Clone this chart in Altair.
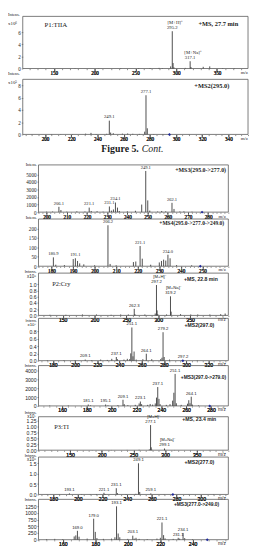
import math
import altair as alt
import pandas as pd

SERIF = "Liberation Serif"
SANS = "Liberation Sans"
W = 229
STICK = "#3a3a3a"
FRAME = "#5a5a5a"
TXT = "#1a1a1a"
PREC = "#1f2a9c"

# ---------------- data ----------------
# P1 : TIIA, +MS 27.7 min (x10^6)
P1_MZ = [150, 176, 205, 232, 254, 268, 279, 283, 293.2, 295.2, 296.2, 297.2, 311.1, 317.1, 318.1, 333.1, 341.1, 357, 371]
P1_INT = [0.03, 0.04, 0.03, 0.05, 0.06, 0.08, 0.1, 0.06, 0.35, 6.15, 0.9, 0.2, 0.1, 1.2, 0.25, 0.28, 0.35, 0.06, 0.05]
P1_LAB = [295.2, 317.1]
P1_ION_MZ = [295.2, 317.1]
P1_ION_TXT = ["[M+H]⁺", "[M+Na]⁺"]

# P1 : +MS2(295.0) (x10^5)
P2_MZ = [190, 205, 212, 221, 231, 235.1, 239, 247.1, 249.1, 250.1, 252.1, 259.1, 263.1, 267, 272, 276.1, 277.1, 278.1, 283, 290, 310]
P2_INT = [0.03, 0.04, 0.03, 0.05, 0.12, 0.25, 0.06, 0.1, 2.25, 0.3, 0.2, 0.12, 0.15, 0.1, 0.08, 0.45, 6.4, 1.0, 0.05, 0.05, 0.03]
P2_LAB = [249.1, 277.1]
P2_PREC = 295.0

# +MS3(295.0->277.0)
P3_MZ = [200, 203, 206.1, 207.1, 210, 215, 219, 221.1, 222.1, 225, 228, 231.1, 232.1, 233.1, 234.1, 235.1, 236, 240, 244, 247.1, 249.1, 250.1, 251.1, 255, 257, 259, 262.1, 263.1, 266, 268, 272]
P3_INT = [60, 80, 700, 280, 60, 100, 80, 600, 150, 120, 60, 750, 200, 350, 1270, 600, 150, 100, 180, 1000, 5450, 1550, 200, 80, 150, 100, 1230, 420, 80, 100, 60]
P3_LAB = [206.1, 221.1, 231.1, 234.1, 249.1, 262.1]
P3_PREC = 277.0

# +MS4(295.0->277.0->249.0)
P4_MZ = [180.9, 182, 186, 190.1, 191.1, 192.1, 193.1, 195, 200, 206.2, 207.2, 210, 218, 219.1, 221.1, 222.1, 226, 230, 231, 232, 233, 234.0, 235, 238, 245]
P4_INT = [47, 8, 6, 38, 42, 28, 15, 10, 5, 217, 12, 5, 22, 25, 107, 40, 8, 20, 28, 35, 30, 61, 42, 6, 5]
P4_LAB = [180.9, 191.1, 206.2, 221.1, 234.0]
P4_PREC = 249.0

# P2 : Cry, +MS 22.8 min (x10^6)
P5_MZ = [130, 155, 181, 203, 226, 241, 253, 262.3, 263.3, 279, 295.2, 297.2, 298.2, 299.2, 313, 319.2, 320.2, 335, 351, 362, 381, 398, 405]
P5_INT = [0.02, 0.02, 0.03, 0.03, 0.02, 0.03, 0.03, 0.21, 0.04, 0.03, 0.06, 0.97, 0.16, 0.04, 0.03, 0.61, 0.12, 0.04, 0.03, 0.03, 0.03, 0.04, 0.06]
P5_LAB = [262.3, 297.2, 319.2]
P5_ION_MZ = [297.2, 319.2]
P5_ION_TXT = ["[M+H]⁺", "[M+Na]⁺"]

# +MS2(297.0) (x10^7)
P6_MZ = [175, 190, 200, 209.1, 215, 223, 229, 233, 237.1, 238.1, 244, 247, 249.1, 250.1, 251.1, 252.1, 253.1, 255, 261, 264.1, 269, 277, 278.2, 279.2, 280.2, 285, 297.2, 310]
P6_INT = [0.01, 0.015, 0.015, 0.03, 0.015, 0.03, 0.02, 0.05, 0.1, 0.04, 0.03, 0.05, 0.04, 0.2, 0.91, 0.12, 0.25, 0.03, 0.04, 0.19, 0.04, 0.04, 0.08, 0.78, 0.1, 0.03, 0.015, 0.01]
P6_LAB = [209.1, 237.1, 251.1, 264.1, 279.2, 297.2]
P6_PREC = 297.0

# +MS3(297.0->279.0)
P7_MZ = [150, 165, 181.1, 183, 195.1, 197, 205, 209.1, 210.1, 213, 219, 222.1, 223.1, 224.1, 229, 231, 233, 235.1, 236.1, 237.1, 238.1, 239, 244, 247, 249.1, 250.1, 251.1, 252.1, 256, 261.1, 262.1, 263.1, 264.1, 265, 270]
P7_INT = [40, 50, 160, 60, 160, 60, 80, 700, 200, 80, 120, 280, 500, 200, 120, 220, 150, 280, 950, 2150, 800, 200, 120, 200, 600, 1500, 3650, 300, 120, 250, 650, 300, 1050, 150, 60]
P7_LAB = [181.1, 195.1, 209.1, 223.1, 237.1, 251.1, 264.1]
P7_PREC = 279.0

# P3 : TI, +MS 23.4 min (x10^7)
P8_MZ = [120, 150, 185, 215, 240, 259, 275.1, 277.1, 278.1, 279.1, 299.1, 300.1, 315, 340, 370]
P8_INT = [0.005, 0.008, 0.006, 0.008, 0.01, 0.015, 0.03, 1.05, 0.12, 0.02, 0.07, 0.01, 0.008, 0.006, 0.005]
P8_LAB = [277.1, 299.1]
P8_ION_MZ = [277.1, 299.1]
P8_ION_TXT = ["[M+H]⁺", "[M+Na]⁺"]

# +MS2(277.0) (x10^6)
P9_MZ = [175, 185, 193.1, 203, 210, 215, 221.1, 222, 231.1, 232.1, 239, 247, 249.1, 250.1, 259.1, 270, 290, 310]
P9_INT = [0.01, 0.01, 0.05, 0.015, 0.01, 0.02, 0.08, 0.02, 0.3, 0.06, 0.02, 0.03, 1.5, 0.12, 0.05, 0.01, 0.01, 0.01]
P9_LAB = [193.1, 221.1, 231.1, 249.1, 259.1]
P9_PREC = 277.0

# +MS3(277.0->249.0)
P10_MZ = [150, 155, 160, 167, 168, 169.0, 170, 175, 179.0, 180.0, 181, 185, 190, 192.1, 193.1, 194.1, 195.1, 200, 203.1, 204, 205.1, 207, 212, 218, 220.1, 221.1, 222.1, 223, 228, 231.1, 232, 234.1, 235.1, 240]
P10_INT = [20, 30, 25, 120, 160, 330, 110, 40, 780, 290, 60, 30, 40, 90, 1240, 230, 90, 30, 150, 40, 70, 30, 20, 40, 70, 640, 170, 50, 30, 70, 40, 250, 60, 20]
P10_LAB = [169.0, 179.0, 193.1, 203.1, 221.1, 231.1, 234.1]
P10_PREC = 249.0

one = pd.DataFrame({"k": [0]})


def txt(s, x, y, align="left", baseline="middle", size=5.0, font=SANS, weight="normal", style="normal"):
    return alt.Chart(one).mark_text(
        text=s, align=align, baseline=baseline, fontSize=size, font=font,
        fontWeight=weight, fontStyle=style, color=TXT
    ).encode(x=alt.value(x), y=alt.value(y))


def panel(mz, inten, labels, xdom, ydom, yticks, yfmt, lab_step, tick_step, h,
          x0, x1, font, annots, ion_mz=None, ion_txt=None, prec=None, labsize=4.3):
    xs = alt.Scale(domain=xdom, range=[x0, x1], nice=False, zero=False)
    ys = alt.Scale(domain=ydom, nice=False, zero=False)

    def pos(v):
        return x0 + (v - xdom[0]) / (xdom[1] - xdom[0]) * (x1 - x0)

    start = int(math.ceil(xdom[0] / tick_step) * tick_step)
    allt = list(range(start, int(math.floor(xdom[1])) + 1, tick_step))
    major = [v for v in allt if v % lab_step == 0 and x0 + 5 < pos(v) < x1 - 17]
    minor = [v for v in allt if v not in major]
    xax = alt.Axis(values=major, format="d", labelFont=font, labelFontSize=5.2, tickSize=2,
                   labelPadding=0, labelOverlap=False, labelFlush=False, title=None, orient="bottom")
    xminor = alt.Axis(values=minor, labels=False, tickSize=1.2, title=None, orient="bottom")
    yax = alt.Axis(values=yticks, format=yfmt, labelFont=font, labelFontSize=5.2,
                   tickSize=1.5, labelPadding=1, labelOverlap=False, offset=-x0, title=None)
    X = alt.X("mz:Q", scale=xs, axis=xax)
    Y = alt.Y("inten:Q", scale=ys, axis=yax)

    df = pd.DataFrame({"mz": mz, "inten": inten})
    lookup = dict(zip(mz, inten))
    lab_df = pd.DataFrame({"mz": labels, "inten": [lookup[m] for m in labels],
                           "txt": [f"{m:.1f}" for m in labels]})

    frame = alt.Chart(one).mark_rect(filled=False, stroke=FRAME, strokeWidth=0.8).encode(
        x=alt.X(datum=xdom[0], type="quantitative", scale=xs, axis=xminor),
        x2=alt.X2(datum=xdom[1]),
        y=alt.Y(datum=ydom[1], type="quantitative", scale=ys, axis=yax),
        y2=alt.Y2(datum=ydom[0]),
    )
    sticks = alt.Chart(df).mark_rule(color=STICK, strokeWidth=0.9).encode(
        x=X, y=Y, y2=alt.Y2(datum=0))
    labs = alt.Chart(lab_df).mark_text(font=font, fontSize=labsize, baseline="bottom",
                                       dy=-1.2, color=TXT).encode(x=X, y=Y, text="txt:N")
    layers = [frame, sticks, labs]
    if prec is not None:
        pdf = pd.DataFrame({"mz": [prec], "inten": [0]})
        layers.append(alt.Chart(pdf).mark_point(shape="diamond", filled=True, size=9,
                                                color=PREC, opacity=1).encode(x=X, y=Y))
    if ion_mz:
        idf = pd.DataFrame({"mz": ion_mz, "inten": [lookup[m] for m in ion_mz], "txt": ion_txt})
        layers.append(alt.Chart(idf).mark_text(font=font, fontSize=labsize, baseline="bottom",
                                               dy=-6.2, dx=3, color=TXT).encode(x=X, y=Y, text="txt:N"))
    layers += annots
    return alt.layer(*layers).resolve_axis(x="independent").properties(width=W, height=h)


def spacer(g):
    return alt.Chart(one).mark_point(opacity=0, size=1).encode(
        x=alt.value(0), y=alt.value(0)).properties(width=W, height=g)


XL, XR = 16, 209

p1 = panel(P1_MZ, P1_INT, P1_LAB, [112, 388], [0, 8.6], [0, 2, 4, 6], "d", 50, 10, 53, 0, W, SERIF, [
    txt("Intens.", -15, -4, "left", "top", 4.5, SERIF),
    txt("x10⁶", -15, 7, "left", "middle", 5, SERIF),
    txt("P1:TIIA", 22, 9, "left", "middle", 7, SERIF),
    txt("+MS, 27.7 min", 219, 8, "right", "middle", 6.5, SERIF, "bold"),
    txt("m/z", 229, 57, "right", "middle", 5, SERIF),
], ion_mz=P1_ION_MZ, ion_txt=P1_ION_TXT, labsize=4.8)

p2 = panel(P2_MZ, P2_INT, P2_LAB, [183, 355], [0, 9], [0, 2, 4, 6, 8], "d", 20, 5, 56, 0, W, SERIF, [
    txt("Intens.", -15, -5.5, "left", "middle", 4.5, SERIF),
    txt("x10⁵", -15, 2.5, "left", "middle", 5, SERIF),
    txt("+MS2(295.0)", 210, 6.5, "right", "middle", 6.5, SERIF, "bold"),
    txt("m/z", 229, 60, "right", "middle", 5, SERIF),
], prec=P2_PREC, labsize=4.8)

cap = alt.layer(
    txt("Figure 5.", 118, 18, "right", "alphabetic", 10, SERIF, "bold"),
    txt("Cont.", 121, 18, "left", "alphabetic", 10, SERIF, "normal", "italic"),
).properties(width=W, height=31)

p3 = panel(P3_MZ, P3_INT, P3_LAB, [196, 290], [0, 6250], [0, 1000, 2000, 3000, 4000, 5000], "d", 10, 2, 48, XL, XR, SERIF, [
    txt("Intens.", 14.5, 0, "right", "middle", 4.3, SERIF),
    txt("+MS3(295.0->277.0)", 206.7, 5.2, "right", "middle", 6, SERIF, "bold"),
    txt("m/z", 206.5, 51.5, "right", "middle", 5, SERIF),
], prec=P3_PREC, labsize=4.6)

p4 = panel(P4_MZ, P4_INT, P4_LAB, [174, 262], [0, 250], [0, 50, 100, 150, 200], "d", 10, 2, 48, XL, XR, SERIF, [
    txt("Intens.", 14.5, -1, "right", "middle", 4.3, SERIF),
    txt("+MS4(295.0->277.0->249.0)", 204.7, 4.5, "right", "middle", 5.6, SERIF, "bold"),
    txt("m/z", 206.5, 51, "right", "middle", 5, SERIF),
], prec=P4_PREC, labsize=4.6)

p5 = panel(P5_MZ, P5_INT, P5_LAB, [112, 410], [0, 1.35], [0, 0.2, 0.4, 0.6, 0.8, 1.0], ".1f", 50, 10, 43, XL, XR, SANS, [
    txt("Intens.", 14.5, -1.5, "right", "middle", 4.2, SANS),
    txt("x10⁶", 13.5, 3.5, "right", "middle", 4.5, SANS),
    txt("P2:Cry", 30, 11.4, "left", "middle", 6.5, SERIF),
    txt("+MS, 22.8 min", 198.4, 6.5, "right", "middle", 5.2, SANS, "bold"),
    txt("m/z", 206.5, 46.5, "right", "middle", 5, SANS),
], ion_mz=P5_ION_MZ, ion_txt=P5_ION_TXT)

p6 = panel(P6_MZ, P6_INT, P6_LAB, [167, 338], [0, 1.16], [0, 0.2, 0.4, 0.6, 0.8], ".1f", 20, 5, 43, XL, XR, SANS, [
    txt("Intens.", 14.5, 2.2, "right", "middle", 3.9, SANS),
    txt("x10⁷", 13.5, 6.5, "right", "middle", 4.4, SANS),
    txt("+MS2(297.0)", 194.7, 6.7, "right", "middle", 5.2, SANS, "bold"),
    txt("m/z", 206.5, 46.5, "right", "middle", 5, SANS),
], prec=P6_PREC)

p7 = panel(P7_MZ, P7_INT, P7_LAB, [141, 294], [0, 4600], [0, 1000, 2000, 3000, 4000], "d", 20, 5, 41, XL, XR, SANS, [
    txt("Intens.", 14.5, 0, "right", "middle", 4.2, SANS),
    txt("+MS3(297.0->279.0)", 206.7, 12, "right", "middle", 5, SANS, "bold"),
    txt("m/z", 206.5, 44.5, "right", "middle", 5, SANS),
], prec=P7_PREC)

p8 = panel(P8_MZ, P8_INT, P8_LAB, [100, 400], [0, 1.4], [0, 0.25, 0.5, 0.75, 1.0, 1.25], ".2f", 50, 10, 34, XL, XR, SANS, [
    txt("Intens.", 14.5, -3.5, "right", "middle", 4.2, SANS),
    txt("x10⁷", 13.5, 0.5, "right", "middle", 4.5, SANS),
    txt("P3:TI", 32, 10.3, "left", "middle", 6.5, SERIF),
    txt("+MS, 23.4 min", 196.7, 2.5, "right", "middle", 5.2, SANS, "bold"),
    txt("m/z", 206.5, 37.5, "right", "middle", 5, SANS),
], ion_mz=P8_ION_MZ, ion_txt=P8_ION_TXT)

p9 = panel(P9_MZ, P9_INT, P9_LAB, [168, 322], [0, 1.8], [0, 0.5, 1.0, 1.5], ".1f", 20, 5, 38, XL, XR, SANS, [
    txt("Intens.", 14.5, -1.5, "right", "middle", 4.2, SANS),
    txt("x10⁶", 13.5, 3, "right", "middle", 4.5, SANS),
    txt("+MS2(277.0)", 194.7, 5, "right", "middle", 5.2, SANS, "bold"),
    txt("m/z", 206.5, 41.5, "right", "middle", 5, SANS),
], prec=P9_PREC)

p10 = panel(P10_MZ, P10_INT, P10_LAB, [145, 262], [0, 1500], [0, 250, 500, 750, 1000, 1250], "d", 20, 5, 41, XL, XR, SANS, [
    txt("Intens.", 14.5, 0.5, "right", "middle", 4.2, SANS),
    txt("+MS3(277.0->249.0)", 199.7, 5, "right", "middle", 5, SANS, "bold"),
    txt("m/z", 206.5, 44.5, "right", "middle", 5, SANS),
], prec=P10_PREC)

cells = [p1, spacer(11), p2, cap, p3, spacer(7), p4, spacer(7), p5, spacer(3), p6,
         spacer(5), p7, spacer(11), p8, spacer(7), p9, spacer(5), p10]

chart = alt.vconcat(*cells, spacing=0, bounds="flush", padding=0).configure_view(
    strokeWidth=0
).configure_axis(
    grid=False, domain=False, tickColor="#444", tickWidth=0.6, labelColor="#222"
)

chart.save("out.html", embed_options={"renderer": "svg", "actions": False})
